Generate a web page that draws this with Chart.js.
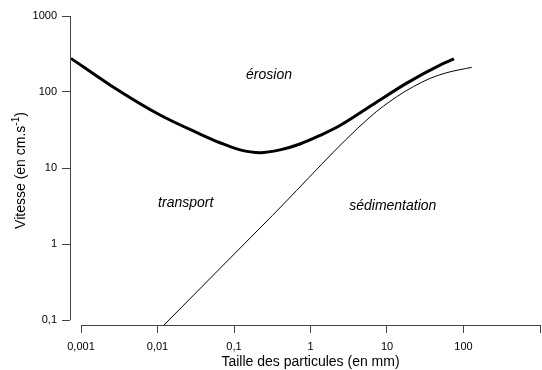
<!DOCTYPE html>
<html>
<head>
<meta charset="utf-8">
<title>Hjulstrom</title>
<script src="https://cdn.jsdelivr.net/npm/chart.js@4.4.1/dist/chart.umd.min.js"></script>
<style>
  html, body {margin: 0; padding: 0; background: #fff;}
  #wrap {width: 542px; height: 370px;}
</style>
</head>
<body>
<div id="wrap"><canvas id="hjul" width="542" height="370"></canvas></div>
<script>

// courbe d'erosion (trait epais)
var erosionX = [0.00074, 0.00239, 0.0108, 0.036, 0.0657, 0.1198, 0.2187, 0.399, 0.729, 1.33, 2.43, 6.56, 18.1, 49.3, 75.2];
var erosionY = [277, 124, 49.8, 28.0, 21.5, 17.3, 15.9, 17.3, 20.7, 26.8, 36.2, 68.5, 131, 226, 272];

// courbe de sedimentation (trait fin)
var sedimX = [0.01217, 0.316, 6.0, 13.4, 22.1, 36.5, 60.3, 128];
var sedimY = [0.086, 2.36, 46.9, 86.7, 117.5, 151, 179.5, 211];

var xTicks = [0.001, 0.01, 0.1, 1, 10, 100, 1000];
var xTickLabels = ['0,001', '0,01', '0,1', '1', '10', '100', ''];
var yTicks = [0.1, 1, 10, 100, 1000];
var yTickLabels = ['0,1', '1', '10', '100', '1000'];

var zoneNames = ['érosion', 'transport', 'sédimentation'];
var zoneX = [0.287, 0.0234, 11.9];
var zoneY = [167, 3.44, 3.16];

var FONT = "'Liberation Sans', Arial, sans-serif";

function pairs(xs, ys) {
  return xs.map(function (x, i) { return {x: x, y: ys[i]}; });
}

var decor = {
  id: 'decor',
  afterDraw: function (chart) {
    var ctx = chart.ctx;
    var xs = chart.scales.x, ys = chart.scales.y;
    ctx.save();
    // axes detaches
    ctx.strokeStyle = '#444';
    ctx.lineWidth = 1;
    ctx.beginPath();
    var ax = Math.round(xs.left) + 0.5;
    ctx.moveTo(ax, ys.getPixelForValue(1000));
    ctx.lineTo(ax, ys.getPixelForValue(0.1));
    var ay = Math.round(ys.bottom) + 0.5;
    ctx.moveTo(xs.getPixelForValue(0.001), ay);
    ctx.lineTo(xs.getPixelForValue(1000), ay);
    ctx.stroke();

    // noms des domaines
    ctx.fillStyle = '#000';
    ctx.font = 'italic 14px ' + FONT;
    ctx.textAlign = 'center';
    ctx.textBaseline = 'middle';
    zoneNames.forEach(function (n, i) {
      ctx.fillText(n, xs.getPixelForValue(zoneX[i]), ys.getPixelForValue(zoneY[i]));
    });

    // titre axe x
    ctx.font = '14px ' + FONT;
    ctx.fillText('Taille des particules (en mm)', (xs.getPixelForValue(0.001) + xs.right) / 2, 362);

    // titre axe y avec exposant
    var main = 'Vitesse (en cm.s', sup = '-1', end = ')';
    ctx.font = '14px ' + FONT;
    var w1 = ctx.measureText(main).width, w3 = ctx.measureText(end).width;
    ctx.font = '10px ' + FONT;
    var w2 = ctx.measureText(sup).width;
    var total = w1 + w2 + w3;
    ctx.translate(21, (ys.top + ys.bottom) / 2);
    ctx.rotate(-Math.PI / 2);
    ctx.textAlign = 'left';
    ctx.textBaseline = 'middle';
    var sx = -total / 2;
    ctx.font = '14px ' + FONT;
    ctx.fillText(main, sx, 0);
    ctx.font = '10px ' + FONT;
    ctx.fillText(sup, sx + w1, -5);
    ctx.font = '14px ' + FONT;
    ctx.fillText(end, sx + w1 + w2, 0);
    ctx.restore();
  }
};

new Chart(document.getElementById('hjul'), {
  type: 'line',
  data: {
    datasets: [{
      label: 'érosion',
      data: pairs(erosionX, erosionY),
      borderColor: '#000',
      borderWidth: 3,
      pointRadius: 0,
      cubicInterpolationMode: 'monotone',
      fill: false
    }, {
      label: 'sédimentation',
      data: pairs(sedimX, sedimY),
      borderColor: '#000',
      borderWidth: 1,
      pointRadius: 0,
      cubicInterpolationMode: 'monotone',
      fill: false
    }]
  },
  options: {
    responsive: false,
    animation: false,
    layout: {padding: {top: 16, right: 2, left: 0, bottom: 0}},
    plugins: {legend: {display: false}, tooltip: {enabled: false}},
    scales: {
      x: {
        type: 'logarithmic',
        min: Math.pow(10, -3 - 11 / 76.5),
        max: 1000,
        afterBuildTicks: function (s) { s.ticks = xTicks.map(function (v) { return {value: v}; }); },
        afterFit: function (s) { s.height = 45; s.paddingLeft = 0; s.paddingRight = 0; },
        grid: {drawOnChartArea: false, drawTicks: true, tickLength: 8, color: '#444'},
        border: {display: false},
        ticks: {
          autoSkip: false, maxRotation: 0, padding: 7, color: '#000',
          font: {family: FONT, size: 11},
          callback: function (v) { var i = xTicks.indexOf(v); return i < 0 ? '' : xTickLabels[i]; }
        }
      },
      y: {
        type: 'logarithmic',
        min: Math.pow(10, -1 - 5 / 76),
        max: 1000,
        afterBuildTicks: function (s) { s.ticks = yTicks.map(function (v) { return {value: v}; }); },
        afterFit: function (s) { s.width = 70; s.paddingTop = 0; s.paddingBottom = 0; },
        grid: {drawOnChartArea: false, drawTicks: true, tickLength: 8, color: '#444'},
        border: {display: false},
        ticks: {
          autoSkip: false, padding: 5, color: '#000',
          font: {family: FONT, size: 11},
          callback: function (v) { var i = yTicks.indexOf(v); return i < 0 ? '' : yTickLabels[i]; }
        }
      }
    }
  },
  plugins: [decor]
});

</script>
</body>
</html>
